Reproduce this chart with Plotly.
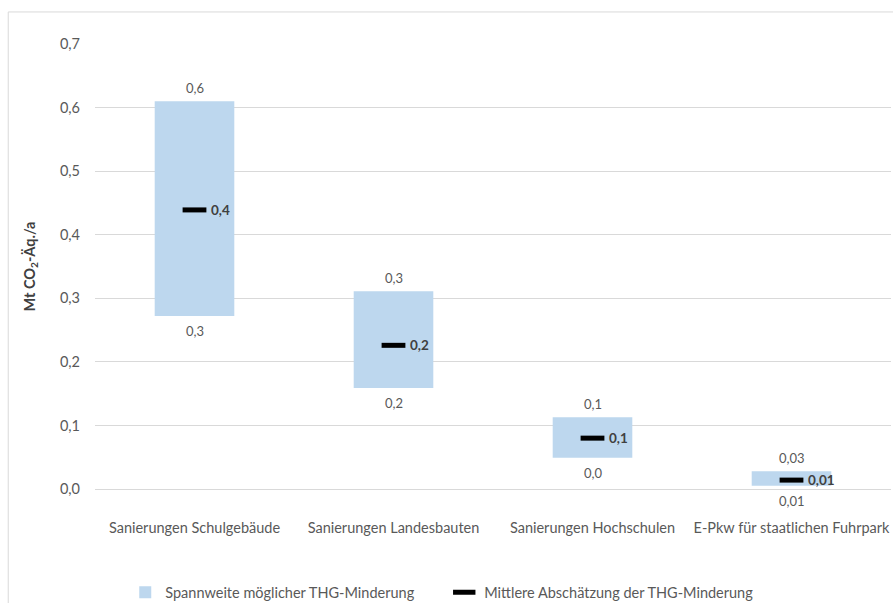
import plotly.graph_objects as go

categories = ["Sanierungen Schulgebäude", "Sanierungen Landesbauten",
              "Sanierungen Hochschulen", "E-Pkw für staatlichen Fuhrpark"]
low = [0.272, 0.159, 0.049, 0.005]
high = [0.610, 0.311, 0.113, 0.028]
mean = [0.439, 0.226, 0.080, 0.014]
high_labels = ["0,6", "0,3", "0,1", "0,03"]
low_labels = ["0,3", "0,2", "0,0", "0,01"]
mean_labels = ["0,4", "0,2", "0,1", "0,01"]

FONT = "Lato"
GREY = "#595959"

fig = go.Figure()
fig.add_trace(go.Bar(
    x=categories, y=[h - l for h, l in zip(high, low)], base=low,
    width=0.4, marker=dict(color="#BDD7EE", line=dict(width=0)),
    name="Spannweite möglicher THG-Minderung", hoverinfo="skip"))
fig.add_trace(go.Scatter(
    x=categories, y=mean, mode="markers",
    marker=dict(symbol="line-ew", size=17, line=dict(width=5, color="black")),
    name="Mittlere Abschätzung der THG-Minderung", cliponaxis=False))

annotations = []
for c, v, t in zip(categories, high, high_labels):
    annotations.append(dict(x=c, y=v, text=t, showarrow=False, yshift=13,
                            xanchor="center", yanchor="middle",
                            font=dict(family=FONT, size=13, color=GREY)))
for c, v, t in zip(categories, low, low_labels):
    annotations.append(dict(x=c, y=v, text=t, showarrow=False, yshift=-15,
                            xanchor="center", yanchor="middle",
                            font=dict(family=FONT, size=13, color=GREY)))
for c, v, t in zip(categories, mean, mean_labels):
    annotations.append(dict(x=c, y=v, text=t, showarrow=False, xshift=14,
                            xanchor="left", yanchor="middle",
                            font=dict(family=FONT, size=13.5, color="#404040", weight="bold")))

fig.update_layout(
    width=893, height=603,
    margin=dict(l=95, r=2, t=44, b=114, autoexpand=False),
    plot_bgcolor="white", paper_bgcolor="white",
    separators=",.",
    font=dict(family=FONT, size=14.5, color=GREY),
    showlegend=True,
    annotations=annotations,
    legend=dict(orientation="h", x=0.038, y=-0.232, xanchor="left", yanchor="middle",
                entrywidth=274, entrywidthmode="pixels",
                font=dict(family=FONT, size=14.5, color=GREY)),
    xaxis=dict(range=[-0.5, 3.5], showgrid=False, showline=False, ticks="",
               automargin=False,
               ticklabelstandoff=28, tickfont=dict(family=FONT, size=14.5, color=GREY)),
    yaxis=dict(range=[0, 0.7], dtick=0.1, tickformat=".1f", showgrid=True,
               automargin=False,
               gridcolor="#D9D9D9", gridwidth=1, zeroline=True, zerolinecolor="#D9D9D9",
               zerolinewidth=1, showline=False, ticks="", ticklabelstandoff=14,
               tickfont=dict(family=FONT, size=14.5, color=GREY),
               title=dict(text="Mt CO<sub>2</sub>-Äq./a", standoff=20,
                          font=dict(family=FONT, size=14.5, color="#404040", weight="bold"))),
    shapes=[dict(type="rect", xref="paper", yref="paper",
                 x0=-0.109, x1=1.2, y0=-0.5, y1=1.072,
                 line=dict(color="#D9D9D9", width=1), fillcolor="rgba(0,0,0,0)", layer="below")],
)

fig.write_html("out.html")
